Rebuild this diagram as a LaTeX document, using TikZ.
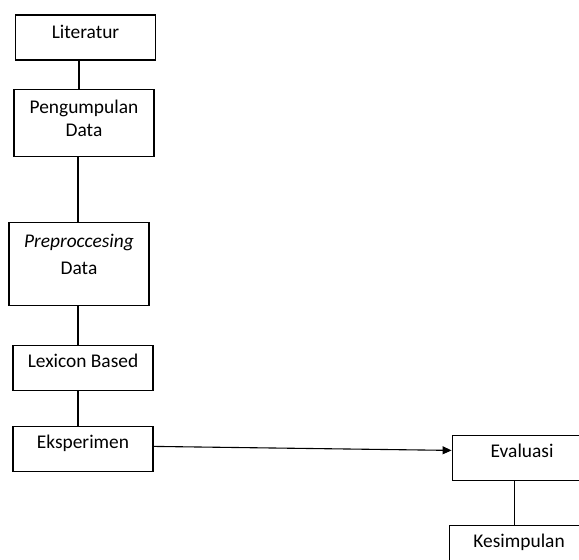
\documentclass[tikz,border=0pt]{standalone}
\usepackage{fontspec}
\setmainfont{Carlito}
\usetikzlibrary{positioning,arrows.meta}

\begin{document}
\begin{tikzpicture}[x=1pt,y=1pt,node distance=28pt,
  box/.style={draw,line width=1.1pt,minimum width=140pt,minimum height=45pt,align=center,inner sep=3pt,font=\fontsize{19.4}{23.5}\selectfont,text depth=15pt},
  link/.style={line width=1.1pt}]
\path[use as bounding box,clip] (0,0) rectangle (579,-560);
\node[box, text depth=11pt] (b1) at (85.5,-37.5) {Literatur};
\node[box, minimum height=67pt, text depth=9pt, below=28pt of b1, xshift=-1.5pt] (b2) {Pengumpulan\\Data};
\node[box, minimum height=83pt, text depth=19pt, below=65pt of b2, xshift=-5pt] (b3) {\textit{Preproccesing}\\[3pt]Data};
\node[box, below=39pt of b3, xshift=4pt] (b4) {Lexicon Based};
\node[box, below=35pt of b4] (b5) {Eksperimen};
\node[box, right=298pt of b5, yshift=-9pt] (b6) {Evaluasi};
\node[box, below=44pt of b6, xshift=-3pt] (b7) {Kesimpulan};
\draw[link] ([xshift=-6.5pt]b1.south) -- ([xshift=-5pt]b2.north);
\draw[link] ([xshift=-6pt]b2.south) -- ([xshift=-1pt]b3.north);
\draw[link] ([xshift=-1pt]b3.south) -- ([xshift=-5pt]b4.north);
\draw[link] ([xshift=-5pt]b4.south) -- ([xshift=-5pt]b5.north);
\draw[link,-{Triangle[length=9pt,width=8pt]}] ([yshift=2.5pt]b5.east) -- ([yshift=7.5pt]b6.west);
\draw[link] ([xshift=-8pt]b6.south) -- ([xshift=-5pt]b7.north);
\end{tikzpicture}
\end{document}
